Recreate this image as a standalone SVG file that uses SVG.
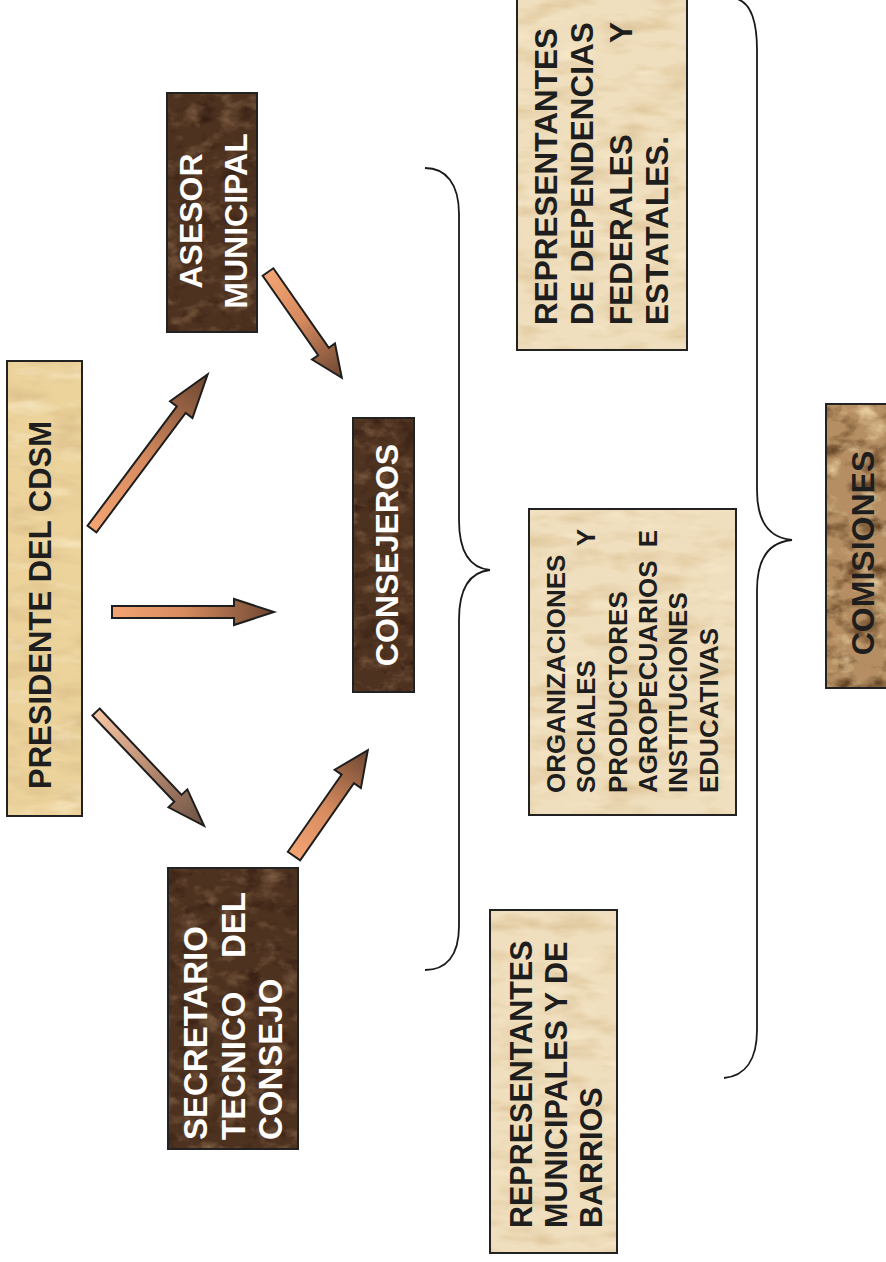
<svg xmlns="http://www.w3.org/2000/svg" width="886" height="1262" viewBox="0 0 886 1262">
<defs>
<style>
.t{font-family:"Liberation Sans",Arial,sans-serif;font-weight:bold}
.w{fill:#ffffff}
.k{fill:#1e1e1e}
.bd{fill:none;stroke:#222;stroke-width:2}
.br{fill:none;stroke:#1a1a1a;stroke-width:1.8}
.ar{stroke:#1e1e1e;stroke-width:2;stroke-linejoin:miter}
</style>
<filter id="fDark" x="0" y="0" width="1" height="1" color-interpolation-filters="sRGB">
<feTurbulence type="fractalNoise" baseFrequency="0.05 0.07" numOctaves="4" seed="7" result="n"/>
<feColorMatrix in="n" type="matrix" values="0 0 0 0 0.55  0 0 0 0 0.42  0 0 0 0 0.30  1.9 0 0 0 -0.95" result="hl"/>
<feColorMatrix in="n" type="matrix" values="0 0 0 0 0.18  0 0 0 0 0.10  0 0 0 0 0.06  0 -2.0 0 0 0.95" result="dk"/>
<feComposite in="hl" in2="SourceGraphic" operator="in" result="hl2"/>
<feComposite in="dk" in2="SourceGraphic" operator="in" result="dk2"/>
<feMerge><feMergeNode in="SourceGraphic"/><feMergeNode in="dk2"/><feMergeNode in="hl2"/></feMerge>
</filter>
<filter id="fPap" x="0" y="0" width="1" height="1" color-interpolation-filters="sRGB">
<feTurbulence type="fractalNoise" baseFrequency="0.02 0.06" numOctaves="3" seed="3" result="n"/>
<feColorMatrix in="n" type="matrix" values="0 0 0 0 0.82  0 0 0 0 0.70  0 0 0 0 0.50  1.3 0 0 0 -0.6" result="hl"/>
<feColorMatrix in="n" type="matrix" values="0 0 0 0 1  0 0 0 0 0.96  0 0 0 0 0.86  0 -1.4 0 0 0.6" result="lt"/>
<feComposite in="hl" in2="SourceGraphic" operator="in" result="hl2"/>
<feComposite in="lt" in2="SourceGraphic" operator="in" result="lt2"/>
<feMerge><feMergeNode in="SourceGraphic"/><feMergeNode in="hl2"/><feMergeNode in="lt2"/></feMerge>
</filter>
<filter id="fCom" x="0" y="0" width="1" height="1" color-interpolation-filters="sRGB">
<feTurbulence type="fractalNoise" baseFrequency="0.035 0.05" numOctaves="4" seed="11" result="n"/>
<feColorMatrix in="n" type="matrix" values="0 0 0 0 0.40  0 0 0 0 0.27  0 0 0 0 0.15  3 0 0 0 -1.45" result="dk"/>
<feColorMatrix in="n" type="matrix" values="0 0 0 0 0.90  0 0 0 0 0.80  0 0 0 0 0.62  0 -3 0 0 1.3" result="lt"/>
<feComposite in="dk" in2="SourceGraphic" operator="in" result="dk2"/>
<feComposite in="lt" in2="SourceGraphic" operator="in" result="lt2"/>
<feMerge><feMergeNode in="SourceGraphic"/><feMergeNode in="dk2"/><feMergeNode in="lt2"/></feMerge>
</filter>
<linearGradient id="gA" x1="0" y1="0" x2="1" y2="0">
<stop offset="0" stop-color="#f4a473"/>
<stop offset="0.45" stop-color="#d68a5e"/>
<stop offset="1" stop-color="#6c4631"/>
</linearGradient>
<linearGradient id="gB" x1="0" y1="0" x2="1" y2="0">
<stop offset="0" stop-color="#f6c6a6"/>
<stop offset="0.5" stop-color="#b88a70"/>
<stop offset="1" stop-color="#6a5042"/>
</linearGradient>
</defs>
<rect width="886" height="1262" fill="#ffffff"/>

<g id="connectors">
<path class="br" d="M425,168 C446,168 459,184 459,214 L459,520 C459,552 470,568 490,570 C470,572 459,588 459,620 L459,926 C459,956 446,970 425,970"/>
<path class="br" d="M733,-2 C750,0 757,20 757,50 L757,490 C757,522 770,538 792,540 C770,542 757,558 757,590 L757,1030 C757,1060 745,1076 724,1078"/>
<polygon class="ar" fill="url(#gA)" transform="translate(92,529) rotate(-53.2)" points="0,-5.5 149,-5.5 149,-14 193,0 149,14 149,5.5 0,5.5"/>
<polygon class="ar" fill="url(#gA)" transform="translate(112,612)" points="0,-6 122,-6 122,-13 162,0 122,13 122,6 0,6"/>
<polygon class="ar" fill="url(#gB)" transform="translate(96,712) rotate(46.5)" points="0,-5 119,-5 119,-13 157,0 119,13 119,5 0,5"/>
<polygon class="ar" fill="url(#gA)" transform="translate(268,272) rotate(55.1)" points="0,-6.5 97,-6.5 97,-14 129,0 97,14 97,6.5 0,6.5"/>
<polygon class="ar" fill="url(#gA)" transform="translate(294,856) rotate(-55.1)" points="0,-7.5 94,-7.5 94,-16 129,0 94,16 94,7.5 0,7.5"/>
</g>

<g id="presidente">
<rect x="7" y="361" width="75" height="455" fill="#ecd39c" filter="url(#fPap)"/>
<rect class="bd" x="7" y="361" width="75" height="455"/>
<text class="t k" font-size="31" text-anchor="middle" transform="rotate(-90)" x="-605" y="51">PRESIDENTE DEL CDSM</text>
</g>

<g id="asesor">
<rect x="167" y="93" width="90" height="239" fill="#4e3220" filter="url(#fDark)"/>
<rect class="bd" x="167" y="93" width="90" height="239"/>
<g transform="rotate(-90)" class="t w" font-size="32" text-anchor="middle">
<text x="-221" y="202">ASESOR</text>
<text x="-221" y="247">MUNICIPAL</text>
</g>
</g>

<g id="consejeros">
<rect x="353" y="418" width="61" height="274" fill="#4e3220" filter="url(#fDark)"/>
<rect class="bd" x="353" y="418" width="61" height="274"/>
<text class="t w" font-size="32" text-anchor="middle" transform="rotate(-90)" x="-555" y="398">CONSEJEROS</text>
</g>

<g id="secretario">
<rect x="168" y="868" width="130" height="281" fill="#4e3220" filter="url(#fDark)"/>
<rect class="bd" x="168" y="868" width="130" height="281"/>
<g transform="rotate(-90)" class="t w" font-size="33">
<text x="-1140" y="207">SECRETARIO</text>
<text x="-1140" y="245">TECNICO</text>
<text x="-892" y="245" text-anchor="end">DEL</text>
<text x="-1140" y="282">CONSEJO</text>
</g>
</g>

<g id="rep-dependencias">
<rect x="517" y="-5" width="170" height="355" fill="#f0dfbe" filter="url(#fPap)"/>
<rect class="bd" x="517" y="-5" width="170" height="355"/>
<g transform="rotate(-90)" class="t k" font-size="31.5">
<text x="-325" y="557">REPRESENTANTES</text>
<text x="-325" y="593">DE DEPENDENCIAS</text>
<text x="-325" y="632">FEDERALES</text>
<text x="-22" y="632" text-anchor="end">Y</text>
<text x="-325" y="668">ESTATALES.</text>
</g>
</g>

<g id="organizaciones">
<rect x="529" y="509" width="207" height="306" fill="#f0dfbe" filter="url(#fPap)"/>
<rect class="bd" x="529" y="509" width="207" height="306"/>
<g transform="rotate(-90)" class="t k" font-size="26">
<text x="-793" y="565">ORGANIZACIONES</text>
<text x="-793" y="595">SOCIALES</text>
<text x="-529" y="595" text-anchor="end">Y</text>
<text x="-793" y="627">PRODUCTORES</text>
<text x="-793" y="657">AGROPECUARIOS</text>
<text x="-530" y="657" text-anchor="end">E</text>
<text x="-793" y="687">INSTITUCIONES</text>
<text x="-793" y="718">EDUCATIVAS</text>
</g>
</g>

<g id="rep-municipales">
<rect x="490" y="910" width="127" height="343" fill="#f0dfbe" filter="url(#fPap)"/>
<rect class="bd" x="490" y="910" width="127" height="343"/>
<g transform="rotate(-90)" class="t k" font-size="30.5">
<text x="-1228" y="532">REPRESENTANTES</text>
<text x="-1228" y="567">MUNICIPALES Y DE</text>
<text x="-1228" y="602">BARRIOS</text>
</g>
</g>

<g id="comisiones">
<rect x="826" y="404" width="70" height="284" fill="#b58f63" filter="url(#fCom)"/>
<rect class="bd" x="826" y="404" width="70" height="284"/>
<text class="t k" font-size="32" text-anchor="middle" transform="rotate(-90)" x="-553" y="874">COMISIONES</text>
</g>
</svg>
